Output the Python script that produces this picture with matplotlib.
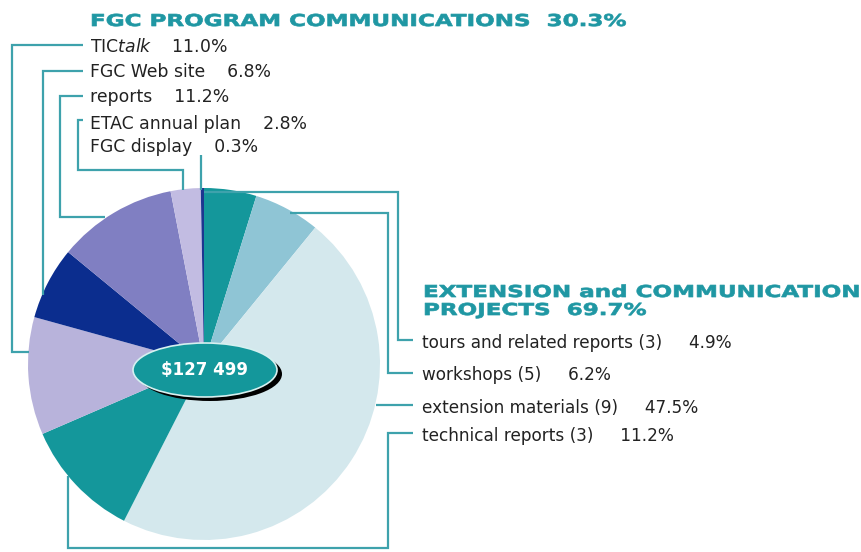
import matplotlib
matplotlib.use('Agg')
import matplotlib.pyplot as plt
from matplotlib.patches import Ellipse
from matplotlib.patheffects import AbstractPathEffect
from matplotlib.transforms import Affine2D

# data
total_label = '$127 499'
fgc_title = 'FGC PROGRAM COMMUNICATIONS'
fgc_total = 30.3
fgc_names = [r'TIC$\mathit{talk}$', 'FGC Web site', 'reports', 'ETAC annual plan', 'FGC display']
fgc_pct = [11.0, 6.8, 11.2, 2.8, 0.3]
ext_title = ['EXTENSION and COMMUNICATION', 'PROJECTS']
ext_total = 69.7
ext_names = ['tours and related reports (3)', 'workshops (5)',
             'extension materials (9)', 'technical reports (3)']
ext_pct = [4.9, 6.2, 47.5, 11.2]

ext_colors = ['#14979b', '#8fc5d5', '#d4e8ed', '#14979b']
fgc_colors = ['#b8b3db', '#0b2d8e', '#807fc2', '#c2bce2', '#1d3690']

TEAL = '#1f97a3'
LINE = '#3ea2ac'
INK = '#222222'

W, H = 862, 552


def Y(y):
    # pixel rows from the top -> data y
    return H - y


class Stretch(AbstractPathEffect):
    """widen glyphs horizontally and thicken them a little (extended bold headings)"""
    def __init__(self, sx, lw=0.5):
        super().__init__()
        self.sx = sx
        self.lw = lw

    def draw_path(self, renderer, gc, tpath, affine, rgbFace=None):
        aff = Affine2D().scale(self.sx, 1) + affine
        gc0 = renderer.new_gc()
        gc0.copy_properties(gc)
        gc0.set_linewidth(self.lw)
        gc0.set_foreground(rgbFace)
        gc0.set_joinstyle('round')
        renderer.draw_path(gc0, tpath, aff, rgbFace)
        gc0.restore()


fig = plt.figure(figsize=(W / 100, H / 100), dpi=100)
ax = fig.add_axes([0, 0, 1, 1])

ax.pie(ext_pct + fgc_pct, colors=ext_colors + fgc_colors, startangle=90,
       counterclock=False, center=(204, Y(364)), radius=176,
       wedgeprops=dict(linewidth=0))
ax.set_xlim(0, W)
ax.set_ylim(0, H)
ax.axis('off')

# connector lines (pixel coords from top-left)
left_routes = [
    [(83, 45), (12, 45), (12, 352), (29, 352)],
    [(83, 71), (43, 71), (43, 295)],
    [(83, 96), (60, 96), (60, 217), (105, 217)],
    [(83, 120), (78, 120), (78, 170), (183, 170), (183, 190)],
    [(201, 155), (201, 190)],
]
right_routes = [
    [(204, 192), (398, 192), (398, 340), (413, 340)],
    [(290, 213), (388, 213), (388, 373), (413, 373)],
    [(376, 405), (413, 405)],
    [(413, 433), (388, 433), (388, 548), (68, 548), (68, 476)],
]
left_base = [51.5, 77, 102, 128.5, 152]
right_base = [348, 380, 413, 441]

for r in left_routes + right_routes:
    ax.plot([p[0] for p in r], [Y(p[1]) for p in r], color=LINE, lw=1.6,
            solid_joinstyle='miter', solid_capstyle='butt', zorder=3)

# labels
for n, p, by in zip(fgc_names, fgc_pct, left_base):
    ax.text(90, Y(by), f'{n}    {p:.1f}%', fontsize=12.4, color=INK,
            ha='left', va='baseline', zorder=4)
for n, p, by in zip(ext_names, ext_pct, right_base):
    ax.text(422, Y(by), f'{n}     {p:.1f}%', fontsize=12.2, color=INK,
            ha='left', va='baseline', zorder=4)

# headings
head = dict(fontsize=11.8, fontweight='bold', color=TEAL, ha='left',
            va='baseline', path_effects=[Stretch(1.405)])
ax.text(90, Y(26), f'{fgc_title}  {fgc_total:.1f}%', **head)
ax.text(423, Y(297), ext_title[0], **head)
ax.text(423, Y(315), f'{ext_title[1]}  {ext_total:.1f}%', **head)

# centre total
ax.add_patch(Ellipse((210, Y(374)), 144, 54, fc='black', ec='none', zorder=5))
ax.add_patch(Ellipse((205, Y(370)), 144, 54, fc='#14979b', ec='#d6f0f0',
                     lw=1.2, zorder=6))
ax.text(205, Y(370), total_label, fontsize=12, fontweight='bold', color='white',
        ha='center', va='center', parse_math=False, zorder=7)

fig.savefig('out.png', dpi=100)
